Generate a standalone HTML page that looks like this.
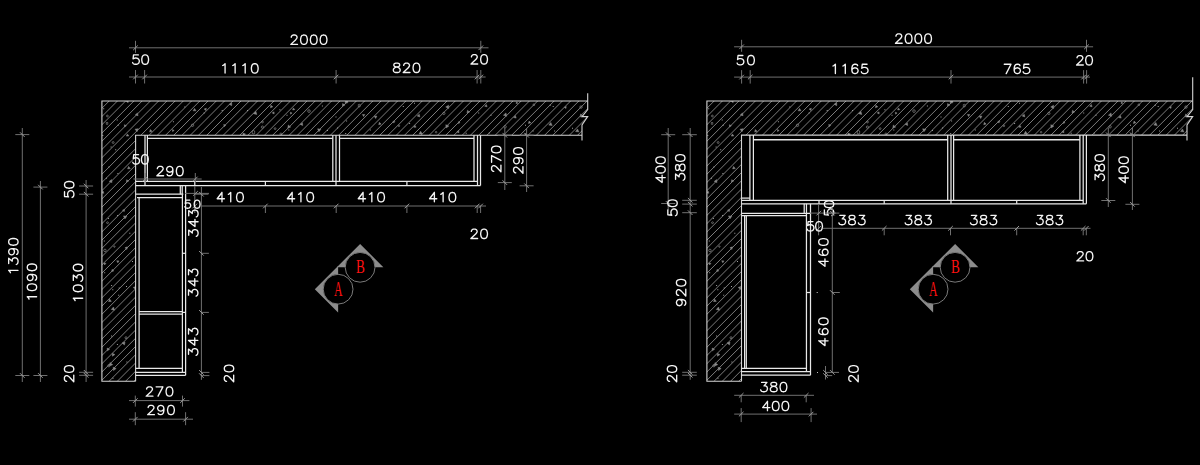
<!DOCTYPE html>
<html><head><meta charset="utf-8"><style>
html,body{margin:0;padding:0;background:#000;width:1200px;height:465px;overflow:hidden}
svg{display:block}
text{font-family:"Liberation Sans",sans-serif}
.serif{font-family:"Liberation Serif",serif}
</style></head><body>
<svg width="1200" height="465" viewBox="0 0 1200 465">
<rect width="1200" height="465" fill="#000"/>
<defs><g id="hatchL">
<path d="M-212.80 390L82.20 95M-204.56 390L90.44 95M-196.32 390L98.68 95M-188.08 390L106.92 95M-179.84 390L115.16 95M-171.60 390L123.40 95M-163.36 390L131.64 95M-155.12 390L139.88 95M-146.88 390L148.12 95M-138.64 390L156.36 95M-130.40 390L164.60 95M-122.16 390L172.84 95M-113.92 390L181.08 95M-105.68 390L189.32 95M-97.44 390L197.56 95M-89.20 390L205.80 95M-80.96 390L214.04 95M-72.72 390L222.28 95M-64.48 390L230.52 95M-56.24 390L238.76 95M-48.00 390L247.00 95M-39.76 390L255.24 95M-31.52 390L263.48 95M-23.28 390L271.72 95M-15.04 390L279.96 95M-6.80 390L288.20 95M1.44 390L296.44 95M9.68 390L304.68 95M17.92 390L312.92 95M26.16 390L321.16 95M34.40 390L329.40 95M42.64 390L337.64 95M50.88 390L345.88 95M59.12 390L354.12 95M67.36 390L362.36 95M75.60 390L370.60 95M83.84 390L378.84 95M92.08 390L387.08 95M100.32 390L395.32 95M108.56 390L403.56 95M116.80 390L411.80 95M125.04 390L420.04 95M133.28 390L428.28 95M141.52 390L436.52 95M149.76 390L444.76 95M158.00 390L453.00 95M166.24 390L461.24 95M174.48 390L469.48 95M182.72 390L477.72 95M190.96 390L485.96 95M199.20 390L494.20 95M207.44 390L502.44 95M215.68 390L510.68 95M223.92 390L518.92 95M232.16 390L527.16 95M240.40 390L535.40 95M248.64 390L543.64 95M256.88 390L551.88 95M265.12 390L560.12 95M273.36 390L568.36 95M281.60 390L576.60 95M289.84 390L584.84 95M298.08 390L593.08 95M306.32 390L601.32 95M314.56 390L609.56 95M322.80 390L617.80 95M331.04 390L626.04 95M339.28 390L634.28 95M347.52 390L642.52 95M355.76 390L650.76 95M364.00 390L659.00 95M372.24 390L667.24 95M380.48 390L675.48 95M388.72 390L683.72 95M396.96 390L691.96 95M405.20 390L700.20 95M413.44 390L708.44 95M421.68 390L716.68 95M429.92 390L724.92 95M438.16 390L733.16 95M446.40 390L741.40 95M454.64 390L749.64 95M462.88 390L757.88 95M471.12 390L766.12 95M479.36 390L774.36 95M487.60 390L782.60 95M495.84 390L790.84 95M504.08 390L799.08 95M512.32 390L807.32 95M520.56 390L815.56 95M528.80 390L823.80 95M537.04 390L832.04 95M545.28 390L840.28 95M553.52 390L848.52 95M561.76 390L856.76 95M570.00 390L865.00 95M578.24 390L873.24 95M586.48 390L881.48 95M594.72 390L889.72 95" stroke="#8a8a8a" stroke-width="0.9" fill="none"/>
<path d="M103.2 108.2h1v1h-1zM102.3 135.0h1v1h-1zM110.6 146.4h1v1h-1zM108.4 166.4h1v1h-1zM105.9 177.7h1v1h-1zM107.9 218.0h1v1h-1zM103.8 240.5h1v1h-1zM104.2 272.3h1v1h-1zM111.1 285.0h1v1h-1zM112.3 289.3h1v1h-1zM111.1 335.5h1v1h-1zM108.6 386.9h1v1h-1zM116.7 119.4h1v1h-1zM117.6 124.8h1v1h-1zM115.2 149.3h1v1h-1zM117.4 173.0h1v1h-1zM117.1 214.9h1v1h-1zM118.7 287.5h1v1h-1zM118.2 294.8h1v1h-1zM116.9 344.1h1v1h-1zM112.5 377.7h1v1h-1zM129.3 232.8h1v1h-1zM132.0 260.9h1v1h-1zM126.0 285.9h1v1h-1zM126.4 361.6h1v1h-1zM133.8 386.9h1v1h-1zM172.9 121.2h1v1h-1zM184.3 106.5h1v1h-1zM203.6 112.5h1v1h-1zM221.7 110.1h1v1h-1zM247.0 109.9h1v1h-1zM279.4 109.2h1v1h-1zM286.5 114.8h1v1h-1zM288.3 129.4h1v1h-1zM321.9 105.4h1v1h-1zM327.0 130.0h1v1h-1zM335.5 116.4h1v1h-1zM337.1 127.6h1v1h-1zM346.1 120.5h1v1h-1zM345.2 132.9h1v1h-1zM369.8 129.5h1v1h-1zM402.8 105.9h1v1h-1zM409.1 122.9h1v1h-1zM414.0 102.7h1v1h-1zM465.7 132.8h1v1h-1zM478.2 112.5h1v1h-1zM490.5 114.7h1v1h-1zM488.8 132.6h1v1h-1zM525.0 124.7h1v1h-1zM532.6 130.5h1v1h-1zM549.7 104.8h1v1h-1zM552.7 106.1h1v1h-1zM554.1 130.4h1v1h-1zM572.0 127.7h1v1h-1zM590.3 125.5h1v1h-1z" fill="#a0a0a0"/>
<path d="M112.0 182.6L109.2 181.4L111.6 179.6ZM103.9 193.3L101.5 192.9L103.1 191.0ZM104.6 265.0L103.8 263.0L106.0 263.3ZM108.5 301.5L109.7 299.1L111.3 301.4ZM107.1 348.1L109.6 349.2L107.4 350.8ZM110.0 362.5L112.7 364.7L109.5 365.9ZM119.0 260.9L117.8 262.8L116.7 260.8ZM111.6 271.5L112.2 269.3L113.8 271.0ZM113.5 307.0L114.5 310.2L111.3 309.5ZM112.4 356.2L112.3 353.3L114.9 354.6ZM113.5 370.6L113.1 367.2L116.2 368.5ZM128.4 100.0L128.1 102.7L126.0 101.1ZM126.4 125.7L124.5 126.9L124.4 124.7ZM127.4 133.9L128.8 136.0L126.3 136.1ZM127.6 168.9L128.6 166.4L130.3 168.5ZM126.7 179.7L128.7 181.0L126.5 182.1ZM122.5 210.1L124.7 209.5L124.1 211.7ZM124.9 218.9L123.5 215.9L126.9 216.2ZM124.9 247.8L127.3 246.8L127.0 249.4ZM122.0 343.0L125.0 341.9L124.5 345.0ZM135.3 114.9L137.4 112.9L138.1 115.7ZM138.2 128.7L137.0 131.7L135.0 129.2ZM133.2 287.5L135.6 286.5L135.2 289.1ZM149.7 132.1L150.2 129.5L152.2 131.3ZM172.5 131.6L172.5 129.6L174.2 130.5ZM193.1 110.8L194.6 108.4L196.0 110.8ZM206.3 108.2L206.0 110.5L204.1 109.1ZM229.2 104.3L231.7 102.8L231.7 105.7ZM224.2 126.7L223.7 124.5L225.8 125.1ZM243.2 135.7L242.9 133.0L245.5 134.1ZM256.8 114.5L253.5 113.7L255.9 111.3ZM270.5 107.8L270.8 105.3L272.8 106.8ZM274.1 114.0L272.2 112.9L274.1 111.8ZM294.8 109.7L292.6 110.0L293.4 107.9ZM292.1 113.0L290.5 114.2L290.3 112.2ZM288.3 125.0L290.7 127.0L287.8 128.1ZM300.2 124.4L302.4 122.8L302.7 125.5ZM320.9 129.2L318.9 131.8L317.6 128.8ZM344.9 105.0L342.5 106.2L342.6 103.6ZM348.0 102.6L345.0 103.4L345.8 100.3ZM363.6 116.6L362.4 114.5L364.8 114.5ZM376.9 116.1L375.7 118.5L374.2 116.2ZM381.1 124.1L378.7 124.7L379.4 122.3ZM393.7 123.1L392.9 121.1L395.0 121.4ZM417.2 116.0L419.3 114.2L419.8 116.9ZM414.9 125.2L416.1 127.2L413.7 127.2ZM419.1 134.0L420.6 131.2L422.3 133.9ZM445.7 106.9L448.6 105.2L448.6 108.5ZM445.8 124.7L448.9 126.0L446.2 127.9ZM458.5 123.6L458.4 121.7L460.1 122.5ZM459.0 132.7L456.8 131.9L458.6 130.4ZM469.5 112.0L467.0 113.0L467.5 110.3ZM484.7 106.2L486.4 104.5L487.1 106.8ZM503.4 115.2L506.0 112.9L506.7 116.3ZM516.1 103.6L516.6 101.8L517.9 103.2ZM515.4 115.6L516.2 118.1L513.6 117.5ZM529.1 121.0L530.9 122.8L528.4 123.5ZM527.3 135.4L524.7 135.9L525.6 133.4ZM552.2 125.5L548.8 125.1L550.8 122.4ZM566.2 106.4L566.0 108.5L564.3 107.3ZM582.8 116.0L580.0 116.9L580.6 114.0ZM575.6 131.6L577.5 128.9L578.9 131.9Z" fill="#8a8a8a" stroke="#8a8a8a" stroke-width="0.5"/>
<path d="M106.5 116.0a0.9 0.9 0 1 0 1.8 0a0.9 0.9 0 1 0 -1.8 0M106.3 123.4a0.8 0.8 0 1 0 1.5 0a0.8 0.8 0 1 0 -1.5 0M106.6 222.7a0.9 0.9 0 1 0 1.8 0a0.9 0.9 0 1 0 -1.8 0M103.7 250.4a1.2 1.2 0 1 0 2.5 0a1.2 1.2 0 1 0 -2.5 0M107.7 365.7a1.1 1.1 0 1 0 2.3 0a1.1 1.1 0 1 0 -2.3 0M112.2 142.5a0.9 0.9 0 1 0 1.9 0a0.9 0.9 0 1 0 -1.9 0M113.7 246.6a0.7 0.7 0 1 0 1.4 0a0.7 0.7 0 1 0 -1.4 0M125.0 337.7a1.0 1.0 0 1 0 2.0 0a1.0 1.0 0 1 0 -2.0 0M191.3 125.3a1.2 1.2 0 1 0 2.4 0a1.2 1.2 0 1 0 -2.4 0M252.2 132.2a1.3 1.3 0 1 0 2.5 0a1.3 1.3 0 1 0 -2.5 0M261.6 122.0a0.9 0.9 0 1 0 1.8 0a0.9 0.9 0 1 0 -1.8 0M261.3 127.1a1.1 1.1 0 1 0 2.2 0a1.1 1.1 0 1 0 -2.2 0M274.2 128.6a0.9 0.9 0 1 0 1.8 0a0.9 0.9 0 1 0 -1.8 0M279.9 134.0a1.0 1.0 0 1 0 2.0 0a1.0 1.0 0 1 0 -2.0 0M307.7 111.1a1.3 1.3 0 1 0 2.6 0a1.3 1.3 0 1 0 -2.6 0M358.3 105.6a1.0 1.0 0 1 0 1.9 0a1.0 1.0 0 1 0 -1.9 0M398.1 125.8a0.8 0.8 0 1 0 1.6 0a0.8 0.8 0 1 0 -1.6 0M435.3 132.2a0.8 0.8 0 1 0 1.6 0a0.8 0.8 0 1 0 -1.6 0M442.7 113.4a1.1 1.1 0 1 0 2.3 0a1.1 1.1 0 1 0 -2.3 0M503.9 126.8a1.2 1.2 0 1 0 2.4 0a1.2 1.2 0 1 0 -2.4 0M533.0 104.8a0.8 0.8 0 1 0 1.7 0a0.8 0.8 0 1 0 -1.7 0M579.8 107.1a1.2 1.2 0 1 0 2.4 0a1.2 1.2 0 1 0 -2.4 0M586.8 114.8a1.2 1.2 0 1 0 2.3 0a1.2 1.2 0 1 0 -2.3 0" fill="none" stroke="#8a8a8a" stroke-width="0.7"/>
</g>
<clipPath id="clipL"><polygon points="101.90,101.00 587.70,101.00 587.70,109.50 582.00,116.60 587.70,116.60 582.00,125.00 582.00,135.20 135.60,135.20 135.60,381.30 101.90,381.30"/></clipPath>
<clipPath id="clipR"><polygon points="706.90,101.00 1192.70,101.00 1192.70,109.50 1187.00,116.60 1192.70,116.60 1187.00,125.00 1187.00,135.10 741.50,135.10 741.50,381.30 706.90,381.30"/></clipPath>
</defs>
<g clip-path="url(#clipL)"><use href="#hatchL" transform="translate(0,0)"/></g>
<polyline points="135.60,381.30 101.90,381.30 101.90,101.00 587.70,101.00" fill="none" stroke="#d4d4d4" stroke-width="1.1"/>
<polyline points="587.70,93.20 587.70,109.50 582.00,116.60 587.70,116.60 582.00,125.00 582.00,140.50" fill="none" stroke="#d4d4d4" stroke-width="1.1"/>
<polyline points="582.00,135.20 135.60,135.20 135.60,381.30" fill="none" stroke="#d4d4d4" stroke-width="1.1"/>
<g clip-path="url(#clipR)"><use href="#hatchL" transform="translate(605.0,0)"/></g>
<polyline points="741.50,381.30 706.90,381.30 706.90,101.00 1192.70,101.00" fill="none" stroke="#d4d4d4" stroke-width="1.1"/>
<polyline points="1192.70,77.20 1192.70,109.50 1187.00,116.60 1192.70,116.60 1187.00,125.00 1187.00,140.50" fill="none" stroke="#d4d4d4" stroke-width="1.1"/>
<polyline points="1187.00,135.10 741.50,135.10 741.50,381.30" fill="none" stroke="#d4d4d4" stroke-width="1.1"/>
<line x1="129.00" y1="47.80" x2="488.50" y2="47.80" stroke="#707070" stroke-width="1.0"/>
<line x1="135.50" y1="40.80" x2="135.50" y2="52.80" stroke="#707070" stroke-width="1.0"/>
<line x1="133.20" y1="50.10" x2="137.80" y2="45.50" stroke="#9a9a9a" stroke-width="1.0"/>
<line x1="480.80" y1="40.80" x2="480.80" y2="52.80" stroke="#707070" stroke-width="1.0"/>
<line x1="478.50" y1="50.10" x2="483.10" y2="45.50" stroke="#9a9a9a" stroke-width="1.0"/>
<path d="M291.26 37.25L291.26 36.81L291.74 35.92L292.22 35.47L293.18 35.03L295.10 35.03L296.06 35.47L296.55 35.92L297.03 36.81L297.03 37.70L296.55 38.59L295.58 39.92L290.78 44.38L297.51 44.38M303.47 35.03L302.02 35.47L301.06 36.81L300.58 39.03L300.58 40.37L301.06 42.59L302.02 43.93L303.47 44.38L304.43 44.38L305.87 43.93L306.83 42.59L307.31 40.37L307.31 39.03L306.83 36.81L305.87 35.47L304.43 35.03L303.47 35.03M313.27 35.03L311.83 35.47L310.87 36.81L310.39 39.03L310.39 40.37L310.87 42.59L311.83 43.93L313.27 44.38L314.23 44.38L315.68 43.93L316.64 42.59L317.12 40.37L317.12 39.03L316.64 36.81L315.68 35.47L314.23 35.03L313.27 35.03M323.08 35.03L321.64 35.47L320.67 36.81L320.19 39.03L320.19 40.37L320.67 42.59L321.64 43.93L323.08 44.38L324.04 44.38L325.48 43.93L326.44 42.59L326.93 40.37L326.93 39.03L326.44 36.81L325.48 35.47L324.04 35.03L323.08 35.03" fill="none" stroke="#f4f4f4" stroke-width="1.35" stroke-linecap="round" stroke-linejoin="round"/>
<line x1="129.00" y1="77.00" x2="485.60" y2="77.00" stroke="#707070" stroke-width="1.0"/>
<line x1="135.50" y1="70.00" x2="135.50" y2="83.50" stroke="#707070" stroke-width="1.0"/>
<line x1="133.20" y1="79.30" x2="137.80" y2="74.70" stroke="#9a9a9a" stroke-width="1.0"/>
<line x1="144.60" y1="70.00" x2="144.60" y2="83.50" stroke="#707070" stroke-width="1.0"/>
<line x1="142.30" y1="79.30" x2="146.90" y2="74.70" stroke="#9a9a9a" stroke-width="1.0"/>
<line x1="336.10" y1="70.00" x2="336.10" y2="83.50" stroke="#707070" stroke-width="1.0"/>
<line x1="333.80" y1="79.30" x2="338.40" y2="74.70" stroke="#9a9a9a" stroke-width="1.0"/>
<line x1="477.10" y1="70.00" x2="477.10" y2="83.50" stroke="#707070" stroke-width="1.0"/>
<line x1="474.80" y1="79.30" x2="479.40" y2="74.70" stroke="#9a9a9a" stroke-width="1.0"/>
<line x1="480.80" y1="70.00" x2="480.80" y2="83.50" stroke="#707070" stroke-width="1.0"/>
<line x1="478.50" y1="79.30" x2="483.10" y2="74.70" stroke="#9a9a9a" stroke-width="1.0"/>
<path d="M138.35 54.93L133.54 54.93L133.06 58.93L133.54 58.49L134.98 58.04L136.42 58.04L137.86 58.49L138.83 59.38L139.31 60.71L139.31 61.60L138.83 62.94L137.86 63.83L136.42 64.28L134.98 64.28L133.54 63.83L133.06 63.38L132.58 62.49M144.68 54.93L143.24 55.37L142.27 56.71L141.79 58.93L141.79 60.27L142.27 62.49L143.24 63.83L144.68 64.28L145.64 64.28L147.08 63.83L148.04 62.49L148.53 60.27L148.53 58.93L148.04 56.71L147.08 55.37L145.64 54.93L144.68 54.93" fill="none" stroke="#f4f4f4" stroke-width="1.35" stroke-linecap="round" stroke-linejoin="round"/>
<path d="M222.68 65.51L223.64 65.06L225.08 63.73L225.08 73.08M232.73 65.51L233.69 65.06L235.13 63.73L235.13 73.08M242.78 65.51L243.74 65.06L245.19 63.73L245.19 73.08M254.28 63.73L252.84 64.17L251.87 65.51L251.39 67.73L251.39 69.07L251.87 71.29L252.84 72.63L254.28 73.08L255.24 73.08L256.68 72.63L257.64 71.29L258.12 69.07L258.12 67.73L257.64 65.51L256.68 64.17L255.24 63.73L254.28 63.73" fill="none" stroke="#f4f4f4" stroke-width="1.35" stroke-linecap="round" stroke-linejoin="round"/>
<path d="M395.78 63.17L394.34 63.62L393.86 64.51L393.86 65.40L394.34 66.29L395.30 66.74L397.22 67.18L398.66 67.63L399.63 68.52L400.11 69.41L400.11 70.74L399.63 71.63L399.15 72.08L397.70 72.52L395.78 72.52L394.34 72.08L393.86 71.63L393.38 70.74L393.38 69.41L393.86 68.52L394.82 67.63L396.26 67.18L398.18 66.74L399.15 66.29L399.63 65.40L399.63 64.51L399.15 63.62L397.70 63.17L395.78 63.17M403.71 65.40L403.71 64.96L404.20 64.07L404.68 63.62L405.64 63.17L407.56 63.17L408.52 63.62L409.00 64.07L409.49 64.96L409.49 65.85L409.00 66.74L408.04 68.07L403.23 72.52L409.97 72.52M415.98 63.17L414.54 63.62L413.57 64.96L413.09 67.18L413.09 68.52L413.57 70.74L414.54 72.08L415.98 72.52L416.94 72.52L418.38 72.08L419.34 70.74L419.82 68.52L419.82 67.18L419.34 64.96L418.38 63.62L416.94 63.17L415.98 63.17" fill="none" stroke="#f4f4f4" stroke-width="1.35" stroke-linecap="round" stroke-linejoin="round"/>
<path d="M471.46 56.90L471.46 56.46L471.94 55.57L472.42 55.12L473.38 54.68L475.30 54.68L476.26 55.12L476.75 55.57L477.23 56.46L477.23 57.35L476.75 58.24L475.78 59.57L470.98 64.03L477.71 64.03M483.58 54.68L482.14 55.12L481.17 56.46L480.69 58.68L480.69 60.02L481.17 62.24L482.14 63.58L483.58 64.03L484.54 64.03L485.98 63.58L486.94 62.24L487.43 60.02L487.43 58.68L486.94 56.46L485.98 55.12L484.54 54.68L483.58 54.68" fill="none" stroke="#f4f4f4" stroke-width="1.35" stroke-linecap="round" stroke-linejoin="round"/>
<line x1="135.60" y1="181.40" x2="477.50" y2="181.40" stroke="#e8e8e8" stroke-width="1.25"/>
<line x1="135.60" y1="185.50" x2="480.50" y2="185.50" stroke="#e8e8e8" stroke-width="1.25"/>
<line x1="480.50" y1="135.20" x2="480.50" y2="185.50" stroke="#e8e8e8" stroke-width="1.25"/>
<line x1="477.50" y1="135.20" x2="477.50" y2="185.50" stroke="#e8e8e8" stroke-width="1.25"/>
<line x1="147.40" y1="135.20" x2="147.40" y2="181.40" stroke="#e8e8e8" stroke-width="1.25"/>
<line x1="332.80" y1="135.20" x2="332.80" y2="181.40" stroke="#e8e8e8" stroke-width="1.25"/>
<line x1="339.50" y1="135.20" x2="339.50" y2="181.40" stroke="#e8e8e8" stroke-width="1.25"/>
<line x1="474.00" y1="135.20" x2="474.00" y2="181.40" stroke="#e8e8e8" stroke-width="1.25"/>
<line x1="147.40" y1="138.30" x2="332.80" y2="138.30" stroke="#e8e8e8" stroke-width="1.2"/>
<line x1="339.50" y1="138.30" x2="474.00" y2="138.30" stroke="#e8e8e8" stroke-width="1.2"/>
<line x1="336.00" y1="135.20" x2="336.00" y2="185.50" stroke="#e8e8e8" stroke-width="1.25"/>
<line x1="145.00" y1="135.20" x2="145.00" y2="181.40" stroke="#e8e8e8" stroke-width="1.25"/>
<line x1="145.00" y1="181.40" x2="145.00" y2="185.50" stroke="#e8e8e8" stroke-width="1.25"/>
<line x1="194.80" y1="181.40" x2="194.80" y2="185.50" stroke="#e8e8e8" stroke-width="1.25"/>
<line x1="265.40" y1="181.40" x2="265.40" y2="185.50" stroke="#e8e8e8" stroke-width="1.25"/>
<line x1="406.90" y1="181.40" x2="406.90" y2="185.50" stroke="#e8e8e8" stroke-width="1.25"/>
<line x1="135.60" y1="194.20" x2="183.30" y2="194.20" stroke="#e8e8e8" stroke-width="1.25"/>
<line x1="137.00" y1="197.60" x2="182.40" y2="197.60" stroke="#e8e8e8" stroke-width="1.25"/>
<line x1="180.30" y1="185.50" x2="180.30" y2="194.20" stroke="#e8e8e8" stroke-width="1.25"/>
<line x1="182.20" y1="185.50" x2="182.20" y2="194.20" stroke="#e8e8e8" stroke-width="1.25"/>
<line x1="185.60" y1="185.50" x2="185.60" y2="375.30" stroke="#e8e8e8" stroke-width="1.25"/>
<line x1="182.40" y1="194.20" x2="182.40" y2="372.30" stroke="#e8e8e8" stroke-width="1.25"/>
<line x1="139.10" y1="197.60" x2="139.10" y2="368.40" stroke="#e8e8e8" stroke-width="1.25"/>
<line x1="139.10" y1="311.60" x2="182.40" y2="311.60" stroke="#e8e8e8" stroke-width="1.25"/>
<line x1="139.10" y1="314.00" x2="182.40" y2="314.00" stroke="#e8e8e8" stroke-width="1.25"/>
<line x1="135.60" y1="368.40" x2="182.40" y2="368.40" stroke="#e8e8e8" stroke-width="1.25"/>
<line x1="135.60" y1="372.30" x2="185.60" y2="372.30" stroke="#e8e8e8" stroke-width="1.25"/>
<line x1="135.60" y1="375.30" x2="185.60" y2="375.30" stroke="#e8e8e8" stroke-width="1.25"/>
<line x1="182.40" y1="253.30" x2="185.60" y2="253.30" stroke="#e8e8e8" stroke-width="1.25"/>
<line x1="182.40" y1="312.40" x2="185.60" y2="312.40" stroke="#e8e8e8" stroke-width="1.25"/>
<line x1="133.40" y1="179.00" x2="201.70" y2="179.00" stroke="#707070" stroke-width="1.0"/>
<line x1="145.20" y1="173.00" x2="145.20" y2="182.00" stroke="#707070" stroke-width="1.0"/>
<line x1="142.90" y1="181.30" x2="147.50" y2="176.70" stroke="#9a9a9a" stroke-width="1.0"/>
<line x1="195.30" y1="173.00" x2="195.30" y2="182.00" stroke="#707070" stroke-width="1.0"/>
<line x1="193.00" y1="181.30" x2="197.60" y2="176.70" stroke="#9a9a9a" stroke-width="1.0"/>
<path d="M138.55 154.67L133.74 154.67L133.26 158.68L133.74 158.24L135.18 157.79L136.62 157.79L138.06 158.24L139.03 159.13L139.51 160.46L139.51 161.35L139.03 162.69L138.06 163.58L136.62 164.02L135.18 164.02L133.74 163.58L133.26 163.13L132.78 162.24M144.38 154.67L142.94 155.12L141.97 156.46L141.49 158.68L141.49 160.02L141.97 162.24L142.94 163.58L144.38 164.02L145.34 164.02L146.78 163.58L147.74 162.24L148.23 160.02L148.23 158.68L147.74 156.46L146.78 155.12L145.34 154.67L144.38 154.67" fill="none" stroke="#f4f4f4" stroke-width="1.35" stroke-linecap="round" stroke-linejoin="round"/>
<path d="M157.36 168.65L157.36 168.21L157.84 167.32L158.32 166.87L159.28 166.42L161.20 166.42L162.16 166.87L162.65 167.32L163.13 168.21L163.13 169.10L162.65 169.99L161.68 171.32L156.88 175.77L163.61 175.77M172.89 169.54L172.40 170.88L171.44 171.77L170.00 172.21L169.52 172.21L168.08 171.77L167.11 170.88L166.63 169.54L166.63 169.10L167.11 167.76L168.08 166.87L169.52 166.42L170.00 166.42L171.44 166.87L172.40 167.76L172.89 169.54L172.89 171.77L172.40 173.99L171.44 175.33L170.00 175.77L169.04 175.77L167.60 175.33L167.11 174.44M179.28 166.42L177.84 166.87L176.87 168.21L176.39 170.43L176.39 171.77L176.87 173.99L177.84 175.33L179.28 175.77L180.24 175.77L181.68 175.33L182.64 173.99L183.13 171.77L183.13 170.43L182.64 168.21L181.68 166.87L180.24 166.42L179.28 166.42" fill="none" stroke="#f4f4f4" stroke-width="1.35" stroke-linecap="round" stroke-linejoin="round"/>
<line x1="201.30" y1="206.00" x2="486.00" y2="206.00" stroke="#707070" stroke-width="1.0"/>
<line x1="194.80" y1="186.00" x2="194.80" y2="213.00" stroke="#707070" stroke-width="1.0"/>
<line x1="192.50" y1="208.30" x2="197.10" y2="203.70" stroke="#9a9a9a" stroke-width="1.0"/>
<line x1="265.40" y1="206.00" x2="265.40" y2="213.00" stroke="#707070" stroke-width="1.0"/>
<line x1="263.10" y1="208.30" x2="267.70" y2="203.70" stroke="#9a9a9a" stroke-width="1.0"/>
<line x1="336.20" y1="206.00" x2="336.20" y2="213.00" stroke="#707070" stroke-width="1.0"/>
<line x1="333.90" y1="208.30" x2="338.50" y2="203.70" stroke="#9a9a9a" stroke-width="1.0"/>
<line x1="406.90" y1="206.00" x2="406.90" y2="213.00" stroke="#707070" stroke-width="1.0"/>
<line x1="404.60" y1="208.30" x2="409.20" y2="203.70" stroke="#9a9a9a" stroke-width="1.0"/>
<line x1="477.20" y1="206.00" x2="477.20" y2="213.00" stroke="#707070" stroke-width="1.0"/>
<line x1="474.90" y1="208.30" x2="479.50" y2="203.70" stroke="#9a9a9a" stroke-width="1.0"/>
<line x1="480.60" y1="206.00" x2="480.60" y2="213.00" stroke="#707070" stroke-width="1.0"/>
<line x1="478.30" y1="208.30" x2="482.90" y2="203.70" stroke="#9a9a9a" stroke-width="1.0"/>
<path d="M221.98 192.52L217.18 198.76L224.39 198.76M221.98 192.52L221.98 201.87M228.33 194.31L229.29 193.86L230.73 192.52L230.73 201.87M239.48 192.52L238.04 192.97L237.07 194.31L236.59 196.53L236.59 197.87L237.07 200.09L238.04 201.43L239.48 201.87L240.44 201.87L241.88 201.43L242.84 200.09L243.33 197.87L243.33 196.53L242.84 194.31L241.88 192.97L240.44 192.52L239.48 192.52" fill="none" stroke="#f4f4f4" stroke-width="1.35" stroke-linecap="round" stroke-linejoin="round"/>
<path d="M292.18 192.52L287.38 198.76L294.59 198.76M292.18 192.52L292.18 201.87M298.53 194.31L299.49 193.86L300.93 192.52L300.93 201.87M309.68 192.52L308.24 192.97L307.27 194.31L306.79 196.53L306.79 197.87L307.27 200.09L308.24 201.43L309.68 201.87L310.64 201.87L312.08 201.43L313.04 200.09L313.52 197.87L313.52 196.53L313.04 194.31L312.08 192.97L310.64 192.52L309.68 192.52" fill="none" stroke="#f4f4f4" stroke-width="1.35" stroke-linecap="round" stroke-linejoin="round"/>
<path d="M363.08 192.52L358.28 198.76L365.49 198.76M363.08 192.52L363.08 201.87M369.43 194.31L370.39 193.86L371.83 192.52L371.83 201.87M380.58 192.52L379.14 192.97L378.17 194.31L377.69 196.53L377.69 197.87L378.17 200.09L379.14 201.43L380.58 201.87L381.54 201.87L382.98 201.43L383.94 200.09L384.43 197.87L384.43 196.53L383.94 194.31L382.98 192.97L381.54 192.52L380.58 192.52" fill="none" stroke="#f4f4f4" stroke-width="1.35" stroke-linecap="round" stroke-linejoin="round"/>
<path d="M434.38 192.52L429.57 198.76L436.79 198.76M434.38 192.52L434.38 201.87M440.73 194.31L441.69 193.86L443.13 192.52L443.13 201.87M451.88 192.52L450.44 192.97L449.47 194.31L448.99 196.53L448.99 197.87L449.47 200.09L450.44 201.43L451.88 201.87L452.84 201.87L454.28 201.43L455.24 200.09L455.72 197.87L455.72 196.53L455.24 194.31L454.28 192.97L452.84 192.52L451.88 192.52" fill="none" stroke="#f4f4f4" stroke-width="1.35" stroke-linecap="round" stroke-linejoin="round"/>
<path d="M471.36 231.40L471.36 230.96L471.84 230.07L472.32 229.62L473.28 229.17L475.20 229.17L476.16 229.62L476.65 230.07L477.13 230.96L477.13 231.85L476.65 232.74L475.68 234.07L470.88 238.52L477.61 238.52M483.58 229.17L482.14 229.62L481.17 230.96L480.69 233.18L480.69 234.52L481.17 236.74L482.14 238.08L483.58 238.52L484.54 238.52L485.98 238.08L486.94 236.74L487.43 234.52L487.43 233.18L486.94 230.96L485.98 229.62L484.54 229.17L483.58 229.17" fill="none" stroke="#f4f4f4" stroke-width="1.35" stroke-linecap="round" stroke-linejoin="round"/>
<line x1="185.00" y1="193.40" x2="209.00" y2="193.40" stroke="#707070" stroke-width="1.0"/>
<line x1="193.20" y1="195.70" x2="197.80" y2="191.10" stroke="#9a9a9a" stroke-width="1.0"/>
<path d="M189.84 200.17L185.70 200.17L185.29 203.62L185.70 203.24L186.94 202.86L188.19 202.86L189.43 203.24L190.26 204.01L190.67 205.16L190.67 205.92L190.26 207.07L189.43 207.84L188.19 208.22L186.94 208.22L185.70 207.84L185.29 207.46L184.88 206.69M196.71 200.17L195.47 200.56L194.64 201.71L194.23 203.62L194.23 204.77L194.64 206.69L195.47 207.84L196.71 208.22L197.54 208.22L198.78 207.84L199.61 206.69L200.03 204.77L200.03 203.62L199.61 201.71L198.78 200.56L197.54 200.17L196.71 200.17" fill="none" stroke="#f4f4f4" stroke-width="1.35" stroke-linecap="round" stroke-linejoin="round"/>
<line x1="201.40" y1="187.00" x2="201.40" y2="379.90" stroke="#707070" stroke-width="1.0"/>
<line x1="194.40" y1="194.20" x2="208.40" y2="194.20" stroke="#707070" stroke-width="1.0"/>
<line x1="199.10" y1="191.90" x2="203.70" y2="196.50" stroke="#9a9a9a" stroke-width="1.0"/>
<line x1="201.40" y1="253.30" x2="208.90" y2="253.30" stroke="#707070" stroke-width="1.0"/>
<line x1="199.10" y1="251.00" x2="203.70" y2="255.60" stroke="#9a9a9a" stroke-width="1.0"/>
<line x1="201.40" y1="312.40" x2="208.90" y2="312.40" stroke="#707070" stroke-width="1.0"/>
<line x1="199.10" y1="310.10" x2="203.70" y2="314.70" stroke="#9a9a9a" stroke-width="1.0"/>
<line x1="201.40" y1="372.40" x2="209.40" y2="372.40" stroke="#707070" stroke-width="1.0"/>
<line x1="199.10" y1="370.10" x2="203.70" y2="374.70" stroke="#9a9a9a" stroke-width="1.0"/>
<line x1="201.40" y1="375.60" x2="209.40" y2="375.60" stroke="#707070" stroke-width="1.0"/>
<line x1="199.10" y1="373.30" x2="203.70" y2="377.90" stroke="#9a9a9a" stroke-width="1.0"/>
<path d="M188.72 235.36L188.72 230.07L192.29 232.96L192.29 231.52L192.73 230.55L193.18 230.07L194.51 229.59L195.40 229.59L196.74 230.07L197.63 231.04L198.07 232.48L198.07 233.92L197.63 235.36L197.18 235.84L196.29 236.32M188.72 221.76L194.96 226.57L194.96 219.35M188.72 221.76L198.07 221.76M188.72 215.85L188.72 210.56L192.29 213.44L192.29 212.00L192.73 211.04L193.18 210.56L194.51 210.07L195.40 210.07L196.74 210.56L197.63 211.52L198.07 212.96L198.07 214.40L197.63 215.85L197.18 216.33L196.29 216.81" fill="none" stroke="#f4f4f4" stroke-width="1.35" stroke-linecap="round" stroke-linejoin="round"/>
<path d="M188.52 295.16L188.52 289.87L192.09 292.76L192.09 291.32L192.53 290.35L192.98 289.87L194.31 289.39L195.20 289.39L196.54 289.87L197.43 290.84L197.87 292.28L197.87 293.72L197.43 295.16L196.98 295.64L196.09 296.12M188.52 281.16L194.76 285.97L194.76 278.75M188.52 281.16L197.87 281.16M188.52 274.85L188.52 269.56L192.09 272.44L192.09 271.00L192.53 270.04L192.98 269.56L194.31 269.07L195.20 269.07L196.54 269.56L197.43 270.52L197.87 271.96L197.87 273.40L197.43 274.85L196.98 275.33L196.09 275.81" fill="none" stroke="#f4f4f4" stroke-width="1.35" stroke-linecap="round" stroke-linejoin="round"/>
<path d="M188.52 354.36L188.52 349.07L192.09 351.96L192.09 350.52L192.53 349.55L192.98 349.07L194.31 348.59L195.20 348.59L196.54 349.07L197.43 350.04L197.87 351.48L197.87 352.92L197.43 354.36L196.98 354.84L196.09 355.32M188.52 340.36L194.76 345.17L194.76 337.95M188.52 340.36L197.87 340.36M188.52 334.05L188.52 328.76L192.09 331.64L192.09 330.20L192.53 329.24L192.98 328.76L194.31 328.28L195.20 328.28L196.54 328.76L197.43 329.72L197.87 331.16L197.87 332.60L197.43 334.05L196.98 334.53L196.09 335.01" fill="none" stroke="#f4f4f4" stroke-width="1.35" stroke-linecap="round" stroke-linejoin="round"/>
<path d="M226.55 381.34L226.11 381.34L225.22 380.86L224.77 380.38L224.32 379.42L224.32 377.50L224.77 376.54L225.22 376.05L226.11 375.57L227.00 375.57L227.89 376.05L229.22 377.02L233.67 381.82L233.67 375.09M224.32 369.02L224.77 370.46L226.11 371.43L228.33 371.91L229.67 371.91L231.89 371.43L233.23 370.46L233.67 369.02L233.67 368.06L233.23 366.62L231.89 365.66L229.67 365.18L228.33 365.18L226.11 365.66L224.77 366.62L224.32 368.06L224.32 369.02" fill="none" stroke="#f4f4f4" stroke-width="1.35" stroke-linecap="round" stroke-linejoin="round"/>
<line x1="504.80" y1="128.00" x2="504.80" y2="190.00" stroke="#707070" stroke-width="1.0"/>
<line x1="497.80" y1="135.20" x2="511.80" y2="135.20" stroke="#707070" stroke-width="1.0"/>
<line x1="502.50" y1="132.90" x2="507.10" y2="137.50" stroke="#9a9a9a" stroke-width="1.0"/>
<line x1="497.80" y1="182.60" x2="511.80" y2="182.60" stroke="#707070" stroke-width="1.0"/>
<line x1="502.50" y1="180.30" x2="507.10" y2="184.90" stroke="#9a9a9a" stroke-width="1.0"/>
<line x1="526.60" y1="128.00" x2="526.60" y2="192.00" stroke="#707070" stroke-width="1.0"/>
<line x1="519.60" y1="135.20" x2="533.60" y2="135.20" stroke="#707070" stroke-width="1.0"/>
<line x1="524.30" y1="132.90" x2="528.90" y2="137.50" stroke="#9a9a9a" stroke-width="1.0"/>
<line x1="519.60" y1="185.80" x2="533.60" y2="185.80" stroke="#707070" stroke-width="1.0"/>
<line x1="524.30" y1="183.50" x2="528.90" y2="188.10" stroke="#9a9a9a" stroke-width="1.0"/>
<path d="M493.80 171.34L493.36 171.34L492.47 170.86L492.02 170.38L491.57 169.42L491.57 167.50L492.02 166.54L492.47 166.05L493.36 165.57L494.25 165.57L495.14 166.05L496.47 167.02L500.93 171.82L500.93 165.09M491.57 155.63L500.93 160.44M491.57 162.37L491.57 155.63M491.57 150.02L492.02 151.46L493.36 152.43L495.58 152.91L496.92 152.91L499.14 152.43L500.48 151.46L500.93 150.02L500.93 149.06L500.48 147.62L499.14 146.66L496.92 146.17L495.58 146.17L493.36 146.66L492.02 147.62L491.57 149.06L491.57 150.02" fill="none" stroke="#f4f4f4" stroke-width="1.35" stroke-linecap="round" stroke-linejoin="round"/>
<path d="M515.80 172.84L515.36 172.84L514.47 172.36L514.02 171.88L513.58 170.92L513.58 169.00L514.02 168.04L514.47 167.55L515.36 167.07L516.25 167.07L517.14 167.55L518.47 168.52L522.93 173.32L522.93 166.59M516.69 157.61L518.03 158.10L518.92 159.06L519.36 160.50L519.36 160.98L518.92 162.42L518.03 163.39L516.69 163.87L516.25 163.87L514.91 163.39L514.02 162.42L513.58 160.98L513.58 160.50L514.02 159.06L514.91 158.10L516.69 157.61L518.92 157.61L521.14 158.10L522.48 159.06L522.93 160.50L522.93 161.46L522.48 162.90L521.59 163.39M513.58 151.52L514.02 152.96L515.36 153.93L517.58 154.41L518.92 154.41L521.14 153.93L522.48 152.96L522.93 151.52L522.93 150.56L522.48 149.12L521.14 148.16L518.92 147.67L517.58 147.67L515.36 148.16L514.02 149.12L513.58 150.56L513.58 151.52" fill="none" stroke="#f4f4f4" stroke-width="1.35" stroke-linecap="round" stroke-linejoin="round"/>
<line x1="129.00" y1="400.60" x2="189.40" y2="400.60" stroke="#707070" stroke-width="1.0"/>
<line x1="135.30" y1="395.60" x2="135.30" y2="406.60" stroke="#707070" stroke-width="1.0"/>
<line x1="133.00" y1="402.90" x2="137.60" y2="398.30" stroke="#9a9a9a" stroke-width="1.0"/>
<line x1="182.50" y1="395.60" x2="182.50" y2="406.60" stroke="#707070" stroke-width="1.0"/>
<line x1="180.20" y1="402.90" x2="184.80" y2="398.30" stroke="#9a9a9a" stroke-width="1.0"/>
<path d="M146.66 389.05L146.66 388.61L147.14 387.72L147.62 387.27L148.58 386.82L150.50 386.82L151.46 387.27L151.95 387.72L152.43 388.61L152.43 389.50L151.95 390.39L150.98 391.72L146.18 396.18L152.91 396.18M162.87 386.82L158.06 396.18M156.13 386.82L162.87 386.82M168.98 386.82L167.54 387.27L166.57 388.61L166.09 390.83L166.09 392.17L166.57 394.39L167.54 395.73L168.98 396.18L169.94 396.18L171.38 395.73L172.34 394.39L172.83 392.17L172.83 390.83L172.34 388.61L171.38 387.27L169.94 386.82L168.98 386.82" fill="none" stroke="#f4f4f4" stroke-width="1.35" stroke-linecap="round" stroke-linejoin="round"/>
<line x1="129.00" y1="419.20" x2="193.00" y2="419.20" stroke="#707070" stroke-width="1.0"/>
<line x1="135.30" y1="412.20" x2="135.30" y2="425.20" stroke="#707070" stroke-width="1.0"/>
<line x1="133.00" y1="421.50" x2="137.60" y2="416.90" stroke="#9a9a9a" stroke-width="1.0"/>
<line x1="185.60" y1="412.20" x2="185.60" y2="425.20" stroke="#707070" stroke-width="1.0"/>
<line x1="183.30" y1="421.50" x2="187.90" y2="416.90" stroke="#9a9a9a" stroke-width="1.0"/>
<path d="M148.16 407.55L148.16 407.11L148.64 406.22L149.12 405.77L150.08 405.32L152.00 405.32L152.96 405.77L153.45 406.22L153.93 407.11L153.93 408.00L153.45 408.89L152.48 410.22L147.68 414.68L154.41 414.68M163.89 408.44L163.40 409.78L162.44 410.67L161.00 411.11L160.52 411.11L159.08 410.67L158.11 409.78L157.63 408.44L157.63 408.00L158.11 406.66L159.08 405.77L160.52 405.32L161.00 405.32L162.44 405.77L163.40 406.66L163.89 408.44L163.89 410.67L163.40 412.89L162.44 414.23L161.00 414.68L160.04 414.68L158.60 414.23L158.11 413.34M170.48 405.32L169.04 405.77L168.07 407.11L167.59 409.33L167.59 410.67L168.07 412.89L169.04 414.23L170.48 414.68L171.44 414.68L172.88 414.23L173.84 412.89L174.33 410.67L174.33 409.33L173.84 407.11L172.88 405.77L171.44 405.32L170.48 405.32" fill="none" stroke="#f4f4f4" stroke-width="1.35" stroke-linecap="round" stroke-linejoin="round"/>
<line x1="22.30" y1="128.00" x2="22.30" y2="382.00" stroke="#707070" stroke-width="1.0"/>
<line x1="15.30" y1="134.60" x2="29.30" y2="134.60" stroke="#707070" stroke-width="1.0"/>
<line x1="20.00" y1="132.30" x2="24.60" y2="136.90" stroke="#9a9a9a" stroke-width="1.0"/>
<line x1="15.30" y1="375.50" x2="29.30" y2="375.50" stroke="#707070" stroke-width="1.0"/>
<line x1="20.00" y1="373.20" x2="24.60" y2="377.80" stroke="#9a9a9a" stroke-width="1.0"/>
<path d="M10.46 272.72L10.01 271.76L8.68 270.32L18.03 270.32M8.68 263.55L8.68 258.26L12.24 261.15L12.24 259.71L12.68 258.74L13.13 258.26L14.46 257.78L15.35 257.78L16.69 258.26L17.58 259.22L18.03 260.67L18.03 262.11L17.58 263.55L17.13 264.03L16.24 264.51M11.79 248.61L13.13 249.09L14.02 250.05L14.46 251.49L14.46 251.98L14.02 253.42L13.13 254.38L11.79 254.86L11.35 254.86L10.01 254.38L9.12 253.42L8.68 251.98L8.68 251.49L9.12 250.05L10.01 249.09L11.79 248.61L14.02 248.61L16.24 249.09L17.58 250.05L18.03 251.49L18.03 252.46L17.58 253.90L16.69 254.38M8.68 242.32L9.12 243.76L10.46 244.73L12.68 245.21L14.02 245.21L16.24 244.73L17.58 243.76L18.03 242.32L18.03 241.36L17.58 239.92L16.24 238.96L14.02 238.47L12.68 238.47L10.46 238.96L9.12 239.92L8.68 241.36L8.68 242.32" fill="none" stroke="#f4f4f4" stroke-width="1.35" stroke-linecap="round" stroke-linejoin="round"/>
<line x1="40.40" y1="181.00" x2="40.40" y2="382.00" stroke="#707070" stroke-width="1.0"/>
<line x1="33.40" y1="187.10" x2="47.40" y2="187.10" stroke="#707070" stroke-width="1.0"/>
<line x1="38.10" y1="184.80" x2="42.70" y2="189.40" stroke="#9a9a9a" stroke-width="1.0"/>
<line x1="33.40" y1="375.50" x2="47.40" y2="375.50" stroke="#707070" stroke-width="1.0"/>
<line x1="38.10" y1="373.20" x2="42.70" y2="377.80" stroke="#9a9a9a" stroke-width="1.0"/>
<path d="M29.06 299.12L28.61 298.16L27.28 296.72L36.62 296.72M27.28 287.73L27.72 289.17L29.06 290.13L31.28 290.61L32.62 290.61L34.84 290.13L36.18 289.17L36.62 287.73L36.62 286.77L36.18 285.32L34.84 284.36L32.62 283.88L31.28 283.88L29.06 284.36L27.72 285.32L27.28 286.77L27.28 287.73M30.39 274.41L31.73 274.89L32.62 275.85L33.06 277.29L33.06 277.78L32.62 279.22L31.73 280.18L30.39 280.66L29.95 280.66L28.61 280.18L27.72 279.22L27.28 277.78L27.28 277.29L27.72 275.85L28.61 274.89L30.39 274.41L32.62 274.41L34.84 274.89L36.18 275.85L36.62 277.29L36.62 278.26L36.18 279.70L35.29 280.18M27.28 267.82L27.72 269.26L29.06 270.23L31.28 270.71L32.62 270.71L34.84 270.23L36.18 269.26L36.62 267.82L36.62 266.86L36.18 265.42L34.84 264.46L32.62 263.98L31.28 263.98L29.06 264.46L27.72 265.42L27.28 266.86L27.28 267.82" fill="none" stroke="#f4f4f4" stroke-width="1.35" stroke-linecap="round" stroke-linejoin="round"/>
<line x1="86.10" y1="180.00" x2="86.10" y2="382.00" stroke="#707070" stroke-width="1.0"/>
<line x1="79.10" y1="186.00" x2="93.10" y2="186.00" stroke="#707070" stroke-width="1.0"/>
<line x1="83.80" y1="183.70" x2="88.40" y2="188.30" stroke="#9a9a9a" stroke-width="1.0"/>
<line x1="79.10" y1="194.20" x2="93.10" y2="194.20" stroke="#707070" stroke-width="1.0"/>
<line x1="83.80" y1="191.90" x2="88.40" y2="196.50" stroke="#9a9a9a" stroke-width="1.0"/>
<line x1="79.10" y1="372.30" x2="93.10" y2="372.30" stroke="#707070" stroke-width="1.0"/>
<line x1="83.80" y1="370.00" x2="88.40" y2="374.60" stroke="#9a9a9a" stroke-width="1.0"/>
<line x1="79.10" y1="375.30" x2="93.10" y2="375.30" stroke="#707070" stroke-width="1.0"/>
<line x1="83.80" y1="373.00" x2="88.40" y2="377.60" stroke="#9a9a9a" stroke-width="1.0"/>
<path d="M64.53 191.65L64.53 196.46L68.53 196.94L68.09 196.46L67.64 195.02L67.64 193.58L68.09 192.14L68.98 191.17L70.31 190.69L71.20 190.69L72.54 191.17L73.43 192.14L73.88 193.58L73.88 195.02L73.43 196.46L72.98 196.94L72.09 197.42M64.53 185.32L64.97 186.76L66.31 187.73L68.53 188.21L69.87 188.21L72.09 187.73L73.43 186.76L73.88 185.32L73.88 184.36L73.43 182.92L72.09 181.96L69.87 181.47L68.53 181.47L66.31 181.96L64.97 182.92L64.53 184.36L64.53 185.32" fill="none" stroke="#f4f4f4" stroke-width="1.35" stroke-linecap="round" stroke-linejoin="round"/>
<path d="M75.11 300.62L74.66 299.66L73.33 298.22L82.67 298.22M73.33 288.83L73.77 290.27L75.11 291.23L77.33 291.71L78.67 291.71L80.89 291.23L82.23 290.27L82.67 288.83L82.67 287.87L82.23 286.42L80.89 285.46L78.67 284.98L77.33 284.98L75.11 285.46L73.77 286.42L73.33 287.87L73.33 288.83M73.33 280.40L73.33 275.11L76.89 277.99L76.89 276.55L77.33 275.59L77.78 275.11L79.11 274.63L80.00 274.63L81.34 275.11L82.23 276.07L82.67 277.51L82.67 278.96L82.23 280.40L81.78 280.88L80.89 281.36M73.33 268.12L73.77 269.56L75.11 270.53L77.33 271.01L78.67 271.01L80.89 270.53L82.23 269.56L82.67 268.12L82.67 267.16L82.23 265.72L80.89 264.76L78.67 264.28L77.33 264.28L75.11 264.76L73.77 265.72L73.33 267.16L73.33 268.12" fill="none" stroke="#f4f4f4" stroke-width="1.35" stroke-linecap="round" stroke-linejoin="round"/>
<path d="M66.65 381.34L66.21 381.34L65.32 380.86L64.87 380.38L64.42 379.42L64.42 377.50L64.87 376.54L65.32 376.05L66.21 375.57L67.10 375.57L67.99 376.05L69.32 377.02L73.77 381.82L73.77 375.09M64.42 369.52L64.87 370.96L66.21 371.93L68.43 372.41L69.77 372.41L71.99 371.93L73.33 370.96L73.77 369.52L73.77 368.56L73.33 367.12L71.99 366.16L69.77 365.68L68.43 365.68L66.21 366.16L64.87 367.12L64.42 368.56L64.42 369.52" fill="none" stroke="#f4f4f4" stroke-width="1.35" stroke-linecap="round" stroke-linejoin="round"/>
<polygon points="336.8,267.3 360.1,244.0 383.4,267.3" fill="#8c8c8c"/>
<polygon points="338.1,265.9 314.8,289.2 338.1,312.5" fill="#8c8c8c"/>
<circle cx="360.1" cy="267.3" r="14.9" fill="#000" stroke="#7a7a7a" stroke-width="1"/>
<circle cx="338.1" cy="289.2" r="14.9" fill="#000" stroke="#7a7a7a" stroke-width="1"/>
<text transform="translate(356.0,273.0) scale(0.68,1)" class="serif" font-size="19.5" fill="#ff1010">B</text>
<text transform="translate(333.9,295.7) scale(0.56,1)" class="serif" font-size="21" fill="#ff1010">A</text>
<polygon points="931.8,267.3 955.1,244.0 978.4,267.3" fill="#8c8c8c"/>
<polygon points="933.1,265.9 909.8,289.2 933.1,312.5" fill="#8c8c8c"/>
<circle cx="955.1" cy="267.3" r="14.9" fill="#000" stroke="#7a7a7a" stroke-width="1"/>
<circle cx="933.1" cy="289.2" r="14.9" fill="#000" stroke="#7a7a7a" stroke-width="1"/>
<text transform="translate(951.0,273.0) scale(0.68,1)" class="serif" font-size="19.5" fill="#ff1010">B</text>
<text transform="translate(928.9,295.7) scale(0.56,1)" class="serif" font-size="21" fill="#ff1010">A</text>
<line x1="734.10" y1="46.80" x2="1093.10" y2="46.80" stroke="#707070" stroke-width="1.0"/>
<line x1="741.60" y1="39.80" x2="741.60" y2="51.80" stroke="#707070" stroke-width="1.0"/>
<line x1="739.30" y1="49.10" x2="743.90" y2="44.50" stroke="#9a9a9a" stroke-width="1.0"/>
<line x1="1086.50" y1="39.80" x2="1086.50" y2="51.80" stroke="#707070" stroke-width="1.0"/>
<line x1="1084.20" y1="49.10" x2="1088.80" y2="44.50" stroke="#9a9a9a" stroke-width="1.0"/>
<path d="M895.96 36.15L895.96 35.71L896.44 34.82L896.92 34.37L897.88 33.93L899.80 33.93L900.76 34.37L901.25 34.82L901.73 35.71L901.73 36.60L901.25 37.49L900.28 38.82L895.47 43.28L902.21 43.28M908.10 33.93L906.66 34.37L905.70 35.71L905.21 37.93L905.21 39.27L905.70 41.49L906.66 42.83L908.10 43.28L909.06 43.28L910.50 42.83L911.47 41.49L911.95 39.27L911.95 37.93L911.47 35.71L910.50 34.37L909.06 33.93L908.10 33.93M917.84 33.93L916.40 34.37L915.43 35.71L914.95 37.93L914.95 39.27L915.43 41.49L916.40 42.83L917.84 43.28L918.80 43.28L920.24 42.83L921.20 41.49L921.69 39.27L921.69 37.93L921.20 35.71L920.24 34.37L918.80 33.93L917.84 33.93M927.58 33.93L926.14 34.37L925.17 35.71L924.69 37.93L924.69 39.27L925.17 41.49L926.14 42.83L927.58 43.28L928.54 43.28L929.98 42.83L930.94 41.49L931.42 39.27L931.42 37.93L930.94 35.71L929.98 34.37L928.54 33.93L927.58 33.93" fill="none" stroke="#f4f4f4" stroke-width="1.35" stroke-linecap="round" stroke-linejoin="round"/>
<line x1="734.10" y1="77.10" x2="1090.00" y2="77.10" stroke="#707070" stroke-width="1.0"/>
<line x1="741.60" y1="70.10" x2="741.60" y2="83.60" stroke="#707070" stroke-width="1.0"/>
<line x1="739.30" y1="79.40" x2="743.90" y2="74.80" stroke="#9a9a9a" stroke-width="1.0"/>
<line x1="750.20" y1="70.10" x2="750.20" y2="83.60" stroke="#707070" stroke-width="1.0"/>
<line x1="747.90" y1="79.40" x2="752.50" y2="74.80" stroke="#9a9a9a" stroke-width="1.0"/>
<line x1="951.00" y1="70.10" x2="951.00" y2="83.60" stroke="#707070" stroke-width="1.0"/>
<line x1="948.70" y1="79.40" x2="953.30" y2="74.80" stroke="#9a9a9a" stroke-width="1.0"/>
<line x1="1083.60" y1="70.10" x2="1083.60" y2="83.60" stroke="#707070" stroke-width="1.0"/>
<line x1="1081.30" y1="79.40" x2="1085.90" y2="74.80" stroke="#9a9a9a" stroke-width="1.0"/>
<line x1="1086.60" y1="70.10" x2="1086.60" y2="83.60" stroke="#707070" stroke-width="1.0"/>
<line x1="1084.30" y1="79.40" x2="1088.90" y2="74.80" stroke="#9a9a9a" stroke-width="1.0"/>
<path d="M742.85 55.48L738.04 55.48L737.56 59.48L738.04 59.04L739.48 58.59L740.92 58.59L742.36 59.04L743.33 59.93L743.81 61.26L743.81 62.15L743.33 63.49L742.36 64.38L740.92 64.83L739.48 64.83L738.04 64.38L737.56 63.93L737.07 63.04M750.48 55.48L749.04 55.92L748.07 57.26L747.59 59.48L747.59 60.82L748.07 63.04L749.04 64.38L750.48 64.83L751.44 64.83L752.88 64.38L753.84 63.04L754.32 60.82L754.32 59.48L753.84 57.26L752.88 55.92L751.44 55.48L750.48 55.48" fill="none" stroke="#f4f4f4" stroke-width="1.35" stroke-linecap="round" stroke-linejoin="round"/>
<path d="M832.97 66.01L833.94 65.56L835.38 64.23L835.38 73.58M842.90 66.01L843.86 65.56L845.30 64.23L845.30 73.58M857.62 65.56L857.14 64.67L855.70 64.23L854.74 64.23L853.30 64.67L852.33 66.01L851.85 68.23L851.85 70.46L852.33 72.24L853.30 73.13L854.74 73.58L855.22 73.58L856.66 73.13L857.62 72.24L858.10 70.90L858.10 70.46L857.62 69.12L856.66 68.23L855.22 67.79L854.74 67.79L853.30 68.23L852.33 69.12L851.85 70.46M867.06 64.23L862.25 64.23L861.77 68.23L862.25 67.79L863.70 67.34L865.14 67.34L866.58 67.79L867.54 68.68L868.02 70.01L868.02 70.90L867.54 72.24L866.58 73.13L865.14 73.58L863.70 73.58L862.25 73.13L861.77 72.68L861.29 71.79" fill="none" stroke="#f4f4f4" stroke-width="1.35" stroke-linecap="round" stroke-linejoin="round"/>
<path d="M1011.01 64.23L1006.20 73.58M1004.27 64.23L1011.01 64.23M1019.94 65.56L1019.45 64.67L1018.01 64.23L1017.05 64.23L1015.61 64.67L1014.65 66.01L1014.16 68.23L1014.16 70.46L1014.65 72.24L1015.61 73.13L1017.05 73.58L1017.53 73.58L1018.97 73.13L1019.94 72.24L1020.42 70.90L1020.42 70.46L1019.94 69.12L1018.97 68.23L1017.53 67.79L1017.05 67.79L1015.61 68.23L1014.65 69.12L1014.16 70.46M1028.86 64.23L1024.05 64.23L1023.57 68.23L1024.05 67.79L1025.50 67.34L1026.94 67.34L1028.38 67.79L1029.34 68.68L1029.83 70.01L1029.83 70.90L1029.34 72.24L1028.38 73.13L1026.94 73.58L1025.50 73.58L1024.05 73.13L1023.57 72.68L1023.09 71.79" fill="none" stroke="#f4f4f4" stroke-width="1.35" stroke-linecap="round" stroke-linejoin="round"/>
<path d="M1077.06 57.85L1077.06 57.41L1077.54 56.52L1078.02 56.07L1078.98 55.62L1080.90 55.62L1081.86 56.07L1082.35 56.52L1082.83 57.41L1082.83 58.30L1082.35 59.19L1081.38 60.52L1076.58 64.97L1083.31 64.97M1088.58 55.62L1087.14 56.07L1086.17 57.41L1085.69 59.63L1085.69 60.97L1086.17 63.19L1087.14 64.53L1088.58 64.97L1089.54 64.97L1090.98 64.53L1091.94 63.19L1092.42 60.97L1092.42 59.63L1091.94 57.41L1090.98 56.07L1089.54 55.62L1088.58 55.62" fill="none" stroke="#f4f4f4" stroke-width="1.35" stroke-linecap="round" stroke-linejoin="round"/>
<line x1="741.50" y1="200.30" x2="1083.20" y2="200.30" stroke="#e8e8e8" stroke-width="1.25"/>
<line x1="741.50" y1="203.80" x2="1086.40" y2="203.80" stroke="#e8e8e8" stroke-width="1.25"/>
<line x1="1086.40" y1="135.00" x2="1086.40" y2="203.80" stroke="#e8e8e8" stroke-width="1.25"/>
<line x1="1083.20" y1="135.00" x2="1083.20" y2="203.80" stroke="#e8e8e8" stroke-width="1.25"/>
<line x1="753.40" y1="135.00" x2="753.40" y2="200.30" stroke="#e8e8e8" stroke-width="1.25"/>
<line x1="947.70" y1="135.00" x2="947.70" y2="200.30" stroke="#e8e8e8" stroke-width="1.25"/>
<line x1="953.60" y1="135.00" x2="953.60" y2="200.30" stroke="#e8e8e8" stroke-width="1.25"/>
<line x1="1079.90" y1="135.00" x2="1079.90" y2="200.30" stroke="#e8e8e8" stroke-width="1.25"/>
<line x1="753.40" y1="139.75" x2="947.70" y2="139.75" stroke="#e8e8e8" stroke-width="1.4"/>
<line x1="953.60" y1="139.75" x2="1079.90" y2="139.75" stroke="#e8e8e8" stroke-width="1.4"/>
<line x1="951.00" y1="135.00" x2="951.00" y2="203.80" stroke="#e8e8e8" stroke-width="1.25"/>
<line x1="749.90" y1="135.00" x2="749.90" y2="200.30" stroke="#e8e8e8" stroke-width="1.25"/>
<line x1="741.50" y1="198.10" x2="749.90" y2="198.10" stroke="#e8e8e8" stroke-width="1.25"/>
<line x1="819.00" y1="200.30" x2="819.00" y2="203.80" stroke="#e8e8e8" stroke-width="1.25"/>
<line x1="884.20" y1="200.30" x2="884.20" y2="203.80" stroke="#e8e8e8" stroke-width="1.25"/>
<line x1="1016.70" y1="200.30" x2="1016.70" y2="203.80" stroke="#e8e8e8" stroke-width="1.25"/>
<line x1="741.50" y1="213.25" x2="810.50" y2="213.25" stroke="#e8e8e8" stroke-width="1.25"/>
<line x1="741.50" y1="215.66" x2="806.45" y2="215.66" stroke="#e8e8e8" stroke-width="1.25"/>
<line x1="804.20" y1="203.80" x2="804.20" y2="213.25" stroke="#e8e8e8" stroke-width="1.25"/>
<line x1="806.45" y1="203.80" x2="806.45" y2="213.25" stroke="#e8e8e8" stroke-width="1.25"/>
<line x1="810.50" y1="203.80" x2="810.50" y2="375.20" stroke="#e8e8e8" stroke-width="1.25"/>
<line x1="806.45" y1="213.25" x2="806.45" y2="371.50" stroke="#e8e8e8" stroke-width="1.25"/>
<line x1="746.30" y1="215.66" x2="746.30" y2="368.40" stroke="#e8e8e8" stroke-width="1.25"/>
<line x1="744.60" y1="215.66" x2="744.60" y2="368.40" stroke="#e8e8e8" stroke-width="1.25"/>
<line x1="741.50" y1="368.40" x2="806.45" y2="368.40" stroke="#e8e8e8" stroke-width="1.25"/>
<line x1="741.50" y1="371.50" x2="810.50" y2="371.50" stroke="#e8e8e8" stroke-width="1.25"/>
<line x1="741.50" y1="375.20" x2="810.50" y2="375.20" stroke="#e8e8e8" stroke-width="1.25"/>
<line x1="806.45" y1="292.50" x2="810.50" y2="292.50" stroke="#e8e8e8" stroke-width="1.25"/>
<rect x="816.7" y="292" width="1" height="1" fill="#ccc"/>
<line x1="823.00" y1="228.30" x2="1090.50" y2="228.30" stroke="#707070" stroke-width="1.0"/>
<line x1="818.60" y1="204.30" x2="818.60" y2="235.30" stroke="#707070" stroke-width="1.0"/>
<line x1="816.30" y1="230.60" x2="820.90" y2="226.00" stroke="#9a9a9a" stroke-width="1.0"/>
<line x1="884.20" y1="228.30" x2="884.20" y2="235.30" stroke="#707070" stroke-width="1.0"/>
<line x1="881.90" y1="230.60" x2="886.50" y2="226.00" stroke="#9a9a9a" stroke-width="1.0"/>
<line x1="950.50" y1="228.30" x2="950.50" y2="235.30" stroke="#707070" stroke-width="1.0"/>
<line x1="948.20" y1="230.60" x2="952.80" y2="226.00" stroke="#9a9a9a" stroke-width="1.0"/>
<line x1="1016.70" y1="228.30" x2="1016.70" y2="235.30" stroke="#707070" stroke-width="1.0"/>
<line x1="1014.40" y1="230.60" x2="1019.00" y2="226.00" stroke="#9a9a9a" stroke-width="1.0"/>
<line x1="1083.20" y1="228.30" x2="1083.20" y2="235.30" stroke="#707070" stroke-width="1.0"/>
<line x1="1080.90" y1="230.60" x2="1085.50" y2="226.00" stroke="#9a9a9a" stroke-width="1.0"/>
<line x1="1086.30" y1="228.30" x2="1086.30" y2="235.30" stroke="#707070" stroke-width="1.0"/>
<line x1="1084.00" y1="230.60" x2="1088.60" y2="226.00" stroke="#9a9a9a" stroke-width="1.0"/>
<path d="M839.84 215.38L845.13 215.38L842.24 218.94L843.68 218.94L844.65 219.38L845.13 219.83L845.61 221.16L845.61 222.05L845.13 223.39L844.16 224.28L842.72 224.72L841.28 224.72L839.84 224.28L839.36 223.83L838.88 222.94M851.04 215.38L849.60 215.82L849.11 216.71L849.11 217.60L849.60 218.49L850.56 218.94L852.48 219.38L853.92 219.83L854.89 220.72L855.37 221.61L855.37 222.94L854.89 223.83L854.40 224.28L852.96 224.72L851.04 224.72L849.60 224.28L849.11 223.83L848.63 222.94L848.63 221.61L849.11 220.72L850.08 219.83L851.52 219.38L853.44 218.94L854.40 218.49L854.89 217.60L854.89 216.71L854.40 215.82L852.96 215.38L851.04 215.38M859.35 215.38L864.64 215.38L861.76 218.94L863.20 218.94L864.16 219.38L864.64 219.83L865.12 221.16L865.12 222.05L864.64 223.39L863.68 224.28L862.24 224.72L860.80 224.72L859.35 224.28L858.87 223.83L858.39 222.94" fill="none" stroke="#f4f4f4" stroke-width="1.35" stroke-linecap="round" stroke-linejoin="round"/>
<path d="M906.14 215.38L911.43 215.38L908.54 218.94L909.98 218.94L910.95 219.38L911.43 219.83L911.91 221.16L911.91 222.05L911.43 223.39L910.46 224.28L909.02 224.72L907.58 224.72L906.14 224.28L905.66 223.83L905.17 222.94M917.34 215.38L915.90 215.82L915.41 216.71L915.41 217.60L915.90 218.49L916.86 218.94L918.78 219.38L920.22 219.83L921.19 220.72L921.67 221.61L921.67 222.94L921.19 223.83L920.70 224.28L919.26 224.72L917.34 224.72L915.90 224.28L915.41 223.83L914.93 222.94L914.93 221.61L915.41 220.72L916.38 219.83L917.82 219.38L919.74 218.94L920.70 218.49L921.19 217.60L921.19 216.71L920.70 215.82L919.26 215.38L917.34 215.38M925.65 215.38L930.94 215.38L928.06 218.94L929.50 218.94L930.46 219.38L930.94 219.83L931.42 221.16L931.42 222.05L930.94 223.39L929.98 224.28L928.54 224.72L927.10 224.72L925.65 224.28L925.17 223.83L924.69 222.94" fill="none" stroke="#f4f4f4" stroke-width="1.35" stroke-linecap="round" stroke-linejoin="round"/>
<path d="M971.44 215.38L976.73 215.38L973.84 218.94L975.28 218.94L976.25 219.38L976.73 219.83L977.21 221.16L977.21 222.05L976.73 223.39L975.76 224.28L974.32 224.72L972.88 224.72L971.44 224.28L970.96 223.83L970.47 222.94M982.64 215.38L981.20 215.82L980.71 216.71L980.71 217.60L981.20 218.49L982.16 218.94L984.08 219.38L985.52 219.83L986.49 220.72L986.97 221.61L986.97 222.94L986.49 223.83L986.00 224.28L984.56 224.72L982.64 224.72L981.20 224.28L980.71 223.83L980.23 222.94L980.23 221.61L980.71 220.72L981.68 219.83L983.12 219.38L985.04 218.94L986.00 218.49L986.49 217.60L986.49 216.71L986.00 215.82L984.56 215.38L982.64 215.38M990.95 215.38L996.24 215.38L993.36 218.94L994.80 218.94L995.76 219.38L996.24 219.83L996.72 221.16L996.72 222.05L996.24 223.39L995.28 224.28L993.84 224.72L992.40 224.72L990.95 224.28L990.47 223.83L989.99 222.94" fill="none" stroke="#f4f4f4" stroke-width="1.35" stroke-linecap="round" stroke-linejoin="round"/>
<path d="M1037.44 215.38L1042.73 215.38L1039.84 218.94L1041.28 218.94L1042.25 219.38L1042.73 219.83L1043.21 221.16L1043.21 222.05L1042.73 223.39L1041.76 224.28L1040.32 224.72L1038.88 224.72L1037.44 224.28L1036.96 223.83L1036.47 222.94M1048.64 215.38L1047.20 215.82L1046.71 216.71L1046.71 217.60L1047.20 218.49L1048.16 218.94L1050.08 219.38L1051.52 219.83L1052.49 220.72L1052.97 221.61L1052.97 222.94L1052.49 223.83L1052.00 224.28L1050.56 224.72L1048.64 224.72L1047.20 224.28L1046.71 223.83L1046.23 222.94L1046.23 221.61L1046.71 220.72L1047.68 219.83L1049.12 219.38L1051.04 218.94L1052.00 218.49L1052.49 217.60L1052.49 216.71L1052.00 215.82L1050.56 215.38L1048.64 215.38M1056.95 215.38L1062.24 215.38L1059.36 218.94L1060.80 218.94L1061.76 219.38L1062.24 219.83L1062.72 221.16L1062.72 222.05L1062.24 223.39L1061.28 224.28L1059.84 224.72L1058.40 224.72L1056.95 224.28L1056.47 223.83L1055.99 222.94" fill="none" stroke="#f4f4f4" stroke-width="1.35" stroke-linecap="round" stroke-linejoin="round"/>
<path d="M1077.36 253.80L1077.36 253.36L1077.84 252.47L1078.32 252.02L1079.28 251.57L1081.20 251.57L1082.16 252.02L1082.65 252.47L1083.13 253.36L1083.13 254.25L1082.65 255.14L1081.68 256.47L1076.88 260.93L1083.61 260.93M1088.98 251.57L1087.54 252.02L1086.57 253.36L1086.09 255.58L1086.09 256.92L1086.57 259.14L1087.54 260.48L1088.98 260.93L1089.94 260.93L1091.38 260.48L1092.34 259.14L1092.83 256.92L1092.83 255.58L1092.34 253.36L1091.38 252.02L1089.94 251.57L1088.98 251.57" fill="none" stroke="#f4f4f4" stroke-width="1.35" stroke-linecap="round" stroke-linejoin="round"/>
<line x1="810.00" y1="213.10" x2="836.00" y2="213.10" stroke="#707070" stroke-width="1.0"/>
<line x1="816.50" y1="215.40" x2="821.10" y2="210.80" stroke="#9a9a9a" stroke-width="1.0"/>
<path d="M812.95 221.62L808.14 221.62L807.66 225.63L808.14 225.19L809.58 224.74L811.02 224.74L812.46 225.19L813.43 226.08L813.91 227.41L813.91 228.30L813.43 229.64L812.46 230.53L811.02 230.97L809.58 230.97L808.14 230.53L807.66 230.08L807.17 229.19M818.58 221.62L817.14 222.07L816.17 223.41L815.69 225.63L815.69 226.97L816.17 229.19L817.14 230.53L818.58 230.97L819.54 230.97L820.98 230.53L821.94 229.19L822.42 226.97L822.42 225.63L821.94 223.41L820.98 222.07L819.54 221.62L818.58 221.62" fill="none" stroke="#f4f4f4" stroke-width="1.35" stroke-linecap="round" stroke-linejoin="round"/>
<path d="M824.38 209.85L824.38 214.66L828.38 215.14L827.94 214.66L827.49 213.22L827.49 211.78L827.94 210.34L828.83 209.37L830.16 208.89L831.05 208.89L832.39 209.37L833.28 210.34L833.73 211.78L833.73 213.22L833.28 214.66L832.83 215.14L831.94 215.62M824.38 204.72L824.82 206.16L826.16 207.13L828.38 207.61L829.72 207.61L831.94 207.13L833.28 206.16L833.73 204.72L833.73 203.76L833.28 202.32L831.94 201.36L829.72 200.87L828.38 200.87L826.16 201.36L824.82 202.32L824.38 203.76L824.38 204.72" fill="none" stroke="#f4f4f4" stroke-width="1.35" stroke-linecap="round" stroke-linejoin="round"/>
<line x1="832.30" y1="207.00" x2="832.30" y2="372.40" stroke="#707070" stroke-width="1.0"/>
<line x1="825.30" y1="213.10" x2="839.30" y2="213.10" stroke="#707070" stroke-width="1.0"/>
<line x1="830.00" y1="210.80" x2="834.60" y2="215.40" stroke="#9a9a9a" stroke-width="1.0"/>
<line x1="832.30" y1="292.50" x2="839.80" y2="292.50" stroke="#707070" stroke-width="1.0"/>
<line x1="830.00" y1="290.20" x2="834.60" y2="294.80" stroke="#9a9a9a" stroke-width="1.0"/>
<line x1="832.30" y1="372.40" x2="839.00" y2="372.40" stroke="#707070" stroke-width="1.0"/>
<line x1="830.00" y1="370.10" x2="834.60" y2="374.70" stroke="#9a9a9a" stroke-width="1.0"/>
<line x1="825.50" y1="366.00" x2="825.50" y2="379.50" stroke="#707070" stroke-width="1.0"/>
<line x1="825.50" y1="372.40" x2="832.20" y2="372.40" stroke="#707070" stroke-width="1.0"/>
<line x1="823.20" y1="370.10" x2="827.80" y2="374.70" stroke="#9a9a9a" stroke-width="1.0"/>
<line x1="825.50" y1="375.60" x2="832.20" y2="375.60" stroke="#707070" stroke-width="1.0"/>
<line x1="823.20" y1="373.30" x2="827.80" y2="377.90" stroke="#9a9a9a" stroke-width="1.0"/>
<rect x="817" y="372" width="1" height="1" fill="#bbb"/>
<path d="M818.73 261.42L824.96 266.22L824.96 259.01M818.73 261.42L828.08 261.42M820.06 249.51L819.17 250.00L818.73 251.44L818.73 252.40L819.17 253.84L820.51 254.80L822.73 255.29L824.96 255.29L826.74 254.80L827.63 253.84L828.08 252.40L828.08 251.92L827.63 250.48L826.74 249.51L825.40 249.03L824.96 249.03L823.62 249.51L822.73 250.48L822.29 251.92L822.29 252.40L822.73 253.84L823.62 254.80L824.96 255.29M818.73 242.42L819.17 243.86L820.51 244.83L822.73 245.31L824.07 245.31L826.29 244.83L827.63 243.86L828.08 242.42L828.08 241.46L827.63 240.02L826.29 239.06L824.07 238.57L822.73 238.57L820.51 239.06L819.17 240.02L818.73 241.46L818.73 242.42" fill="none" stroke="#f4f4f4" stroke-width="1.35" stroke-linecap="round" stroke-linejoin="round"/>
<path d="M818.73 340.82L824.96 345.62L824.96 338.41M818.73 340.82L828.08 340.82M820.06 328.91L819.17 329.40L818.73 330.84L818.73 331.80L819.17 333.24L820.51 334.20L822.73 334.69L824.96 334.69L826.74 334.20L827.63 333.24L828.08 331.80L828.08 331.32L827.63 329.88L826.74 328.91L825.40 328.43L824.96 328.43L823.62 328.91L822.73 329.88L822.29 331.32L822.29 331.80L822.73 333.24L823.62 334.20L824.96 334.69M818.73 321.82L819.17 323.26L820.51 324.23L822.73 324.71L824.07 324.71L826.29 324.23L827.63 323.26L828.08 321.82L828.08 320.86L827.63 319.42L826.29 318.46L824.07 317.98L822.73 317.98L820.51 318.46L819.17 319.42L818.73 320.86L818.73 321.82" fill="none" stroke="#f4f4f4" stroke-width="1.35" stroke-linecap="round" stroke-linejoin="round"/>
<path d="M851.05 381.34L850.61 381.34L849.72 380.86L849.27 380.38L848.83 379.42L848.83 377.50L849.27 376.54L849.72 376.05L850.61 375.57L851.50 375.57L852.39 376.05L853.72 377.02L858.18 381.82L858.18 375.09M848.83 369.52L849.27 370.96L850.61 371.93L852.83 372.41L854.17 372.41L856.39 371.93L857.73 370.96L858.18 369.52L858.18 368.56L857.73 367.12L856.39 366.16L854.17 365.68L852.83 365.68L850.61 366.16L849.27 367.12L848.83 368.56L848.83 369.52" fill="none" stroke="#f4f4f4" stroke-width="1.35" stroke-linecap="round" stroke-linejoin="round"/>
<line x1="1108.30" y1="128.00" x2="1108.30" y2="207.00" stroke="#707070" stroke-width="1.0"/>
<line x1="1101.30" y1="134.80" x2="1115.30" y2="134.80" stroke="#707070" stroke-width="1.0"/>
<line x1="1106.00" y1="132.50" x2="1110.60" y2="137.10" stroke="#9a9a9a" stroke-width="1.0"/>
<line x1="1101.30" y1="200.50" x2="1115.30" y2="200.50" stroke="#707070" stroke-width="1.0"/>
<line x1="1106.00" y1="198.20" x2="1110.60" y2="202.80" stroke="#9a9a9a" stroke-width="1.0"/>
<line x1="1132.40" y1="128.00" x2="1132.40" y2="210.00" stroke="#707070" stroke-width="1.0"/>
<line x1="1125.40" y1="134.80" x2="1139.40" y2="134.80" stroke="#707070" stroke-width="1.0"/>
<line x1="1130.10" y1="132.50" x2="1134.70" y2="137.10" stroke="#9a9a9a" stroke-width="1.0"/>
<line x1="1125.40" y1="204.30" x2="1139.40" y2="204.30" stroke="#707070" stroke-width="1.0"/>
<line x1="1130.10" y1="202.00" x2="1134.70" y2="206.60" stroke="#9a9a9a" stroke-width="1.0"/>
<path d="M1095.08 179.66L1095.08 174.37L1098.64 177.26L1098.64 175.82L1099.08 174.85L1099.53 174.37L1100.86 173.89L1101.75 173.89L1103.09 174.37L1103.98 175.34L1104.42 176.78L1104.42 178.22L1103.98 179.66L1103.53 180.14L1102.64 180.62M1095.08 168.61L1095.52 170.05L1096.41 170.54L1097.30 170.54L1098.19 170.05L1098.64 169.09L1099.08 167.17L1099.53 165.73L1100.42 164.76L1101.31 164.28L1102.64 164.28L1103.53 164.76L1103.98 165.25L1104.42 166.69L1104.42 168.61L1103.98 170.05L1103.53 170.54L1102.64 171.02L1101.31 171.02L1100.42 170.54L1099.53 169.57L1099.08 168.13L1098.64 166.21L1098.19 165.25L1097.30 164.76L1096.41 164.76L1095.52 165.25L1095.08 166.69L1095.08 168.61M1095.08 158.52L1095.52 159.96L1096.86 160.93L1099.08 161.41L1100.42 161.41L1102.64 160.93L1103.98 159.96L1104.42 158.52L1104.42 157.56L1103.98 156.12L1102.64 155.16L1100.42 154.67L1099.08 154.67L1096.86 155.16L1095.52 156.12L1095.08 157.56L1095.08 158.52" fill="none" stroke="#f4f4f4" stroke-width="1.35" stroke-linecap="round" stroke-linejoin="round"/>
<path d="M1118.98 178.02L1125.21 182.82L1125.21 175.61M1118.98 178.02L1128.33 178.02M1118.98 170.33L1119.42 171.77L1120.76 172.74L1122.98 173.22L1124.32 173.22L1126.54 172.74L1127.88 171.77L1128.33 170.33L1128.33 169.37L1127.88 167.93L1126.54 166.96L1124.32 166.48L1122.98 166.48L1120.76 166.96L1119.42 167.93L1118.98 169.37L1118.98 170.33M1118.98 160.72L1119.42 162.16L1120.76 163.13L1122.98 163.61L1124.32 163.61L1126.54 163.13L1127.88 162.16L1128.33 160.72L1128.33 159.76L1127.88 158.32L1126.54 157.36L1124.32 156.87L1122.98 156.87L1120.76 157.36L1119.42 158.32L1118.98 159.76L1118.98 160.72" fill="none" stroke="#f4f4f4" stroke-width="1.35" stroke-linecap="round" stroke-linejoin="round"/>
<line x1="734.20" y1="395.30" x2="814.00" y2="395.30" stroke="#707070" stroke-width="1.0"/>
<line x1="741.20" y1="395.30" x2="741.20" y2="402.30" stroke="#707070" stroke-width="1.0"/>
<line x1="738.90" y1="397.60" x2="743.50" y2="393.00" stroke="#9a9a9a" stroke-width="1.0"/>
<line x1="806.20" y1="395.30" x2="806.20" y2="402.30" stroke="#707070" stroke-width="1.0"/>
<line x1="803.90" y1="397.60" x2="808.50" y2="393.00" stroke="#9a9a9a" stroke-width="1.0"/>
<path d="M761.64 382.38L766.93 382.38L764.04 385.94L765.48 385.94L766.45 386.38L766.93 386.83L767.41 388.16L767.41 389.05L766.93 390.39L765.96 391.28L764.52 391.73L763.08 391.73L761.64 391.28L761.16 390.83L760.67 389.94M772.79 382.38L771.35 382.82L770.86 383.71L770.86 384.60L771.35 385.49L772.31 385.94L774.23 386.38L775.67 386.83L776.64 387.72L777.12 388.61L777.12 389.94L776.64 390.83L776.15 391.28L774.71 391.73L772.79 391.73L771.35 391.28L770.86 390.83L770.38 389.94L770.38 388.61L770.86 387.72L771.83 386.83L773.27 386.38L775.19 385.94L776.15 385.49L776.64 384.60L776.64 383.71L776.15 382.82L774.71 382.38L772.79 382.38M782.98 382.38L781.54 382.82L780.57 384.16L780.09 386.38L780.09 387.72L780.57 389.94L781.54 391.28L782.98 391.73L783.94 391.73L785.38 391.28L786.34 389.94L786.82 387.72L786.82 386.38L786.34 384.16L785.38 382.82L783.94 382.38L782.98 382.38" fill="none" stroke="#f4f4f4" stroke-width="1.35" stroke-linecap="round" stroke-linejoin="round"/>
<line x1="734.20" y1="414.10" x2="817.00" y2="414.10" stroke="#707070" stroke-width="1.0"/>
<line x1="741.20" y1="408.10" x2="741.20" y2="422.10" stroke="#707070" stroke-width="1.0"/>
<line x1="738.90" y1="416.40" x2="743.50" y2="411.80" stroke="#9a9a9a" stroke-width="1.0"/>
<line x1="811.10" y1="408.10" x2="811.10" y2="422.10" stroke="#707070" stroke-width="1.0"/>
<line x1="808.80" y1="416.40" x2="813.40" y2="411.80" stroke="#9a9a9a" stroke-width="1.0"/>
<path d="M767.48 401.32L762.67 407.56L769.89 407.56M767.48 401.32L767.48 410.68M775.22 401.32L773.78 401.77L772.81 403.11L772.33 405.33L772.33 406.67L772.81 408.89L773.78 410.23L775.22 410.68L776.18 410.68L777.62 410.23L778.59 408.89L779.07 406.67L779.07 405.33L778.59 403.11L777.62 401.77L776.18 401.32L775.22 401.32M784.88 401.32L783.44 401.77L782.47 403.11L781.99 405.33L781.99 406.67L782.47 408.89L783.44 410.23L784.88 410.68L785.84 410.68L787.28 410.23L788.24 408.89L788.72 406.67L788.72 405.33L788.24 403.11L787.28 401.77L785.84 401.32L784.88 401.32" fill="none" stroke="#f4f4f4" stroke-width="1.35" stroke-linecap="round" stroke-linejoin="round"/>
<line x1="668.20" y1="128.00" x2="668.20" y2="210.00" stroke="#707070" stroke-width="1.0"/>
<line x1="661.20" y1="134.70" x2="675.20" y2="134.70" stroke="#707070" stroke-width="1.0"/>
<line x1="665.90" y1="132.40" x2="670.50" y2="137.00" stroke="#9a9a9a" stroke-width="1.0"/>
<line x1="661.20" y1="203.50" x2="675.20" y2="203.50" stroke="#707070" stroke-width="1.0"/>
<line x1="665.90" y1="201.20" x2="670.50" y2="205.80" stroke="#9a9a9a" stroke-width="1.0"/>
<path d="M655.88 177.62L662.11 182.42L662.11 175.21M655.88 177.62L665.23 177.62M655.88 170.13L656.32 171.57L657.66 172.54L659.88 173.02L661.22 173.02L663.44 172.54L664.78 171.57L665.23 170.13L665.23 169.17L664.78 167.73L663.44 166.76L661.22 166.28L659.88 166.28L657.66 166.76L656.32 167.73L655.88 169.17L655.88 170.13M655.88 160.72L656.32 162.16L657.66 163.13L659.88 163.61L661.22 163.61L663.44 163.13L664.78 162.16L665.23 160.72L665.23 159.76L664.78 158.32L663.44 157.36L661.22 156.87L659.88 156.87L657.66 157.36L656.32 158.32L655.88 159.76L655.88 160.72" fill="none" stroke="#f4f4f4" stroke-width="1.35" stroke-linecap="round" stroke-linejoin="round"/>
<line x1="690.20" y1="128.00" x2="690.20" y2="379.80" stroke="#707070" stroke-width="1.0"/>
<line x1="682.20" y1="134.70" x2="696.80" y2="134.70" stroke="#707070" stroke-width="1.0"/>
<line x1="687.90" y1="132.40" x2="692.50" y2="137.00" stroke="#9a9a9a" stroke-width="1.0"/>
<line x1="682.20" y1="200.30" x2="696.80" y2="200.30" stroke="#707070" stroke-width="1.0"/>
<line x1="687.90" y1="198.00" x2="692.50" y2="202.60" stroke="#9a9a9a" stroke-width="1.0"/>
<line x1="682.20" y1="204.10" x2="696.80" y2="204.10" stroke="#707070" stroke-width="1.0"/>
<line x1="687.90" y1="201.80" x2="692.50" y2="206.40" stroke="#9a9a9a" stroke-width="1.0"/>
<line x1="682.20" y1="212.70" x2="696.80" y2="212.70" stroke="#707070" stroke-width="1.0"/>
<line x1="687.90" y1="210.40" x2="692.50" y2="215.00" stroke="#9a9a9a" stroke-width="1.0"/>
<line x1="682.20" y1="372.30" x2="696.80" y2="372.30" stroke="#707070" stroke-width="1.0"/>
<line x1="687.90" y1="370.00" x2="692.50" y2="374.60" stroke="#9a9a9a" stroke-width="1.0"/>
<line x1="682.20" y1="375.20" x2="696.80" y2="375.20" stroke="#707070" stroke-width="1.0"/>
<line x1="687.90" y1="372.90" x2="692.50" y2="377.50" stroke="#9a9a9a" stroke-width="1.0"/>
<path d="M675.58 179.26L675.58 173.97L679.14 176.86L679.14 175.42L679.58 174.45L680.03 173.97L681.36 173.49L682.25 173.49L683.59 173.97L684.48 174.94L684.93 176.38L684.93 177.82L684.48 179.26L684.03 179.74L683.14 180.22M675.58 168.41L676.02 169.85L676.91 170.34L677.80 170.34L678.69 169.85L679.14 168.89L679.58 166.97L680.03 165.53L680.92 164.56L681.81 164.08L683.14 164.08L684.03 164.56L684.48 165.05L684.93 166.49L684.93 168.41L684.48 169.85L684.03 170.34L683.14 170.82L681.81 170.82L680.92 170.34L680.03 169.37L679.58 167.93L679.14 166.01L678.69 165.05L677.80 164.56L676.91 164.56L676.02 165.05L675.58 166.49L675.58 168.41M675.58 158.52L676.02 159.96L677.36 160.93L679.58 161.41L680.92 161.41L683.14 160.93L684.48 159.96L684.93 158.52L684.93 157.56L684.48 156.12L683.14 155.16L680.92 154.67L679.58 154.67L677.36 155.16L676.02 156.12L675.58 157.56L675.58 158.52" fill="none" stroke="#f4f4f4" stroke-width="1.35" stroke-linecap="round" stroke-linejoin="round"/>
<path d="M667.83 209.95L667.83 214.76L671.83 215.24L671.39 214.76L670.94 213.32L670.94 211.88L671.39 210.44L672.28 209.47L673.61 208.99L674.50 208.99L675.84 209.47L676.73 210.44L677.18 211.88L677.18 213.32L676.73 214.76L676.28 215.24L675.39 215.72M667.83 203.72L668.27 205.16L669.61 206.13L671.83 206.61L673.17 206.61L675.39 206.13L676.73 205.16L677.18 203.72L677.18 202.76L676.73 201.32L675.39 200.36L673.17 199.87L671.83 199.87L669.61 200.36L668.27 201.32L667.83 202.76L667.83 203.72" fill="none" stroke="#f4f4f4" stroke-width="1.35" stroke-linecap="round" stroke-linejoin="round"/>
<path d="M679.54 299.47L680.88 299.95L681.77 300.92L682.21 302.36L682.21 302.84L681.77 304.28L680.88 305.24L679.54 305.72L679.10 305.72L677.76 305.24L676.87 304.28L676.43 302.84L676.43 302.36L676.87 300.92L677.76 299.95L679.54 299.47L681.77 299.47L683.99 299.95L685.33 300.92L685.78 302.36L685.78 303.32L685.33 304.76L684.44 305.24M678.65 295.44L678.21 295.44L677.32 294.95L676.87 294.47L676.43 293.51L676.43 291.59L676.87 290.63L677.32 290.15L678.21 289.66L679.10 289.66L679.99 290.15L681.32 291.11L685.78 295.92L685.78 289.18M676.43 283.22L676.87 284.66L678.21 285.63L680.43 286.11L681.77 286.11L683.99 285.63L685.33 284.66L685.78 283.22L685.78 282.26L685.33 280.82L683.99 279.86L681.77 279.38L680.43 279.38L678.21 279.86L676.87 280.82L676.43 282.26L676.43 283.22" fill="none" stroke="#f4f4f4" stroke-width="1.35" stroke-linecap="round" stroke-linejoin="round"/>
<path d="M669.55 381.34L669.11 381.34L668.22 380.86L667.77 380.38L667.33 379.42L667.33 377.50L667.77 376.54L668.22 376.05L669.11 375.57L670.00 375.57L670.89 376.05L672.22 377.02L676.68 381.82L676.68 375.09M667.33 369.52L667.77 370.96L669.11 371.93L671.33 372.41L672.67 372.41L674.89 371.93L676.23 370.96L676.68 369.52L676.68 368.56L676.23 367.12L674.89 366.16L672.67 365.68L671.33 365.68L669.11 366.16L667.77 367.12L667.33 368.56L667.33 369.52" fill="none" stroke="#f4f4f4" stroke-width="1.35" stroke-linecap="round" stroke-linejoin="round"/>
</svg>
</body></html>
